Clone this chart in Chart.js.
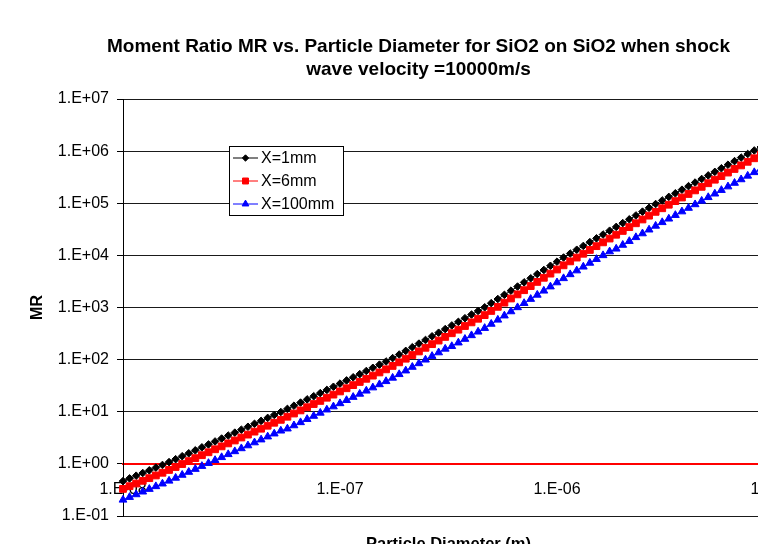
<!DOCTYPE html>
<html>
<head>
<meta charset="utf-8">
<script src="https://cdn.jsdelivr.net/npm/chart.js@4.4.1/dist/chart.umd.min.js"></script>
<style>
  html, body { margin: 0; padding: 0; background: #fff; overflow: hidden; }
  #wrap { width: 837px; height: 560px; }
</style>
</head>
<body>
<div id="wrap"><canvas id="mrChart" width="837" height="560"></canvas></div>
<script>
// particle diameter (m)
const diameters = [
  1.000e-8, 1.072e-8, 1.150e-8, 1.233e-8, 1.322e-8, 1.417e-8, 1.520e-8, 1.630e-8, 1.748e-8, 1.874e-8, 2.009e-8,
  2.154e-8, 2.310e-8, 2.477e-8, 2.656e-8, 2.848e-8, 3.054e-8, 3.275e-8, 3.511e-8, 3.765e-8, 4.037e-8, 4.329e-8,
  4.642e-8, 4.977e-8, 5.337e-8, 5.722e-8, 6.136e-8, 6.579e-8, 7.055e-8, 7.565e-8, 8.111e-8, 8.697e-8, 9.326e-8,
  1.000e-7, 1.072e-7, 1.150e-7, 1.233e-7, 1.322e-7, 1.417e-7, 1.520e-7, 1.630e-7, 1.748e-7, 1.874e-7, 2.009e-7,
  2.154e-7, 2.310e-7, 2.477e-7, 2.656e-7, 2.848e-7, 3.054e-7, 3.275e-7, 3.511e-7, 3.765e-7, 4.037e-7, 4.329e-7,
  4.642e-7, 4.977e-7, 5.337e-7, 5.722e-7, 6.136e-7, 6.579e-7, 7.055e-7, 7.565e-7, 8.111e-7, 8.697e-7, 9.326e-7,
  1.000e-6, 1.072e-6, 1.150e-6, 1.233e-6, 1.322e-6, 1.417e-6, 1.520e-6, 1.630e-6, 1.748e-6, 1.874e-6, 2.009e-6,
  2.154e-6, 2.310e-6, 2.477e-6, 2.656e-6, 2.848e-6, 3.054e-6, 3.275e-6, 3.511e-6, 3.765e-6, 4.037e-6, 4.329e-6,
  4.642e-6, 4.977e-6, 5.337e-6, 5.722e-6, 6.136e-6, 6.579e-6, 7.055e-6, 7.565e-6, 8.111e-6, 8.697e-6, 9.326e-6,
  1.000e-5
];

// moment ratio, X = 1 mm
const mrX1mm = [
  0.467, 0.527, 0.593, 0.668, 0.752, 0.847, 0.953, 1.081, 1.230, 1.403,
  1.596, 1.820, 2.074, 2.360, 2.692, 3.061, 3.491, 3.972, 4.529, 5.150,
  5.874, 6.681, 7.620, 8.688, 9.886, 11.34, 13.06, 15.00, 17.26, 19.86,
  22.79, 26.24, 30.13, 34.67, 39.90, 45.81, 52.67, 60.53, 69.66, 80.17,
  92.02, 106.9, 125.3, 147.2, 173.0, 202.8, 238.2, 279.9, 328.0, 385.5,
  452.9, 530.5, 623.3, 732.6, 859.0, 1009, 1213, 1455, 1750, 2104,
  2523, 3034, 3639, 4375, 5248, 6310, 7568, 9099, 10838, 12822,
  15170, 17950, 21230, 25120, 29720, 35160, 41590, 49200, 58340, 69020,
  81660, 96600, 113200, 132400, 155200, 182000, 212800, 249500, 291700, 342000,
  400000, 468800, 548300, 642700, 751600, 881100, 1030000, 1199000, 1393000, 1622000
];

// moment ratio, X = 6 mm
const mrX6mm = [
  0.331, 0.373, 0.420, 0.473, 0.532, 0.600, 0.675, 0.765, 0.871, 0.993,
  1.130, 1.289, 1.468, 1.671, 1.906, 2.167, 2.472, 2.812, 3.207, 3.646,
  4.159, 4.730, 5.395, 6.151, 6.999, 8.029, 9.246, 10.62, 12.22, 14.06,
  16.14, 18.58, 21.33, 24.55, 28.25, 32.43, 37.29, 42.86, 49.32, 56.76,
  65.15, 75.69, 88.71, 104.2, 122.5, 143.6, 168.6, 198.2, 232.2, 272.9,
  320.7, 375.6, 441.3, 518.7, 608.2, 714.4, 858.8, 1030, 1239, 1490,
  1786, 2148, 2576, 3098, 3716, 4467, 5358, 6442, 7673, 9078,
  10740, 12710, 15030, 17780, 21040, 24890, 29450, 34830, 41300, 48870,
  57820, 68390, 80150, 93740, 109900, 128900, 150700, 176600, 206500, 242100,
  283200, 331900, 388200, 455000, 532100, 623800, 729200, 848900, 986200, 1148000
];

// moment ratio, X = 100 mm
const mrX100mm = [
  0.204, 0.230, 0.259, 0.292, 0.328, 0.370, 0.416, 0.472, 0.537, 0.612,
  0.697, 0.794, 0.905, 1.030, 1.175, 1.336, 1.524, 1.734, 1.977, 2.248,
  2.564, 2.916, 3.326, 3.792, 4.315, 4.728, 5.445, 6.254, 7.196, 8.280,
  9.501, 10.94, 12.56, 14.45, 16.63, 19.10, 21.96, 25.23, 29.04, 33.42,
  38.36, 44.57, 52.24, 61.37, 72.12, 84.55, 99.31, 116.7, 136.7, 160.7,
  180.3, 211.2, 248.1, 291.6, 342.0, 401.7, 482.9, 579.2, 696.7, 837.6,
  1004, 1208, 1449, 1742, 2089, 2512, 3013, 3622, 4315, 5104,
  6039, 7146, 8452, 10000, 11830, 13370, 15810, 18710, 22180, 26240,
  31050, 36730, 43040, 50340, 59010, 69200, 80910, 94860, 110900, 130000,
  152100, 178200, 208500, 244400, 285800, 335000, 391600, 455900, 529600, 616700
];

const seriesNames = ['X=1mm', 'X=6mm', 'X=100mm'];
const xTicks = [1e-8, 1e-7, 1e-6, 1e-5];
const yTicks = [1e-1, 1e0, 1e1, 1e2, 1e3, 1e4, 1e5, 1e6, 1e7];
const titleLines = ['Moment Ratio MR vs. Particle Diameter for SiO2 on SiO2 when shock', 'wave velocity =10000m/s'];
const xTitle = 'Particle Diameter (m)';
const yTitle = 'MR';

const FONT = '"Liberation Sans", Arial, Helvetica, sans-serif';

// Excel style "1.E+03" labels
function sciLabel(v) {
  const e = Math.round(Math.log10(v));
  return '1.E' + (e < 0 ? '-' : '+') + String(Math.abs(e)).padStart(2, '0');
}

function points(ys) {
  return diameters.map((d, i) => ({x: d, y: ys[i]}));
}

function series(label, ys, color, style, radius, order) {
  return {
    label: label,
    data: points(ys),
    borderColor: color,
    backgroundColor: color,
    borderWidth: 1,
    pointStyle: style,
    pointRadius: radius,
    pointBorderWidth: 1,
    pointBackgroundColor: color,
    pointBorderColor: color,
    tension: 0,
    clip: false,
    order: order
  };
}

// title, x axis title and the boxed legend
const chartText = {
  id: 'chartText',
  afterDatasetsDraw(chart) {
    const ctx = chart.ctx;
    const box = {left: 229.5, top: 146.5, width: 114, height: 69};
    ctx.save();
    ctx.fillStyle = '#fff';
    ctx.fillRect(box.left, box.top, box.width, box.height);
    ctx.strokeStyle = '#000';
    ctx.lineWidth = 1;
    ctx.strokeRect(box.left, box.top, box.width, box.height);
    chart.data.datasets.forEach((ds, i) => {
      const y = 158 + i * 23;
      ctx.strokeStyle = ds.borderColor;
      ctx.beginPath();
      ctx.moveTo(233, y);
      ctx.lineTo(258, y);
      ctx.stroke();
      ctx.fillStyle = ds.pointBackgroundColor;
      Chart.helpers.drawPoint(ctx, {pointStyle: ds.pointStyle, radius: ds.pointRadius - 0.6, rotation: 0, borderWidth: 1}, 245.5, y);
      ctx.fillStyle = '#000';
      ctx.font = '16px ' + FONT;
      ctx.textAlign = 'left';
      ctx.textBaseline = 'middle';
      ctx.fillText(ds.label, 261, y + 1);
    });
    ctx.restore();
  },
  afterDraw(chart) {
    const {ctx, chartArea} = chart;
    ctx.save();
    ctx.fillStyle = '#000';
    ctx.textAlign = 'center';
    ctx.textBaseline = 'middle';
    ctx.font = 'bold 19px ' + FONT;
    titleLines.forEach((t, i) => ctx.fillText(t, chart.width / 2, 47 + i * 23));
    ctx.font = 'bold 16.5px ' + FONT;
    ctx.textBaseline = 'alphabetic';
    ctx.fillText(xTitle, (chartArea.left + chartArea.right) / 2, 549);
    ctx.restore();
  }
};

new Chart(document.getElementById('mrChart').getContext('2d'), {
  type: 'line',
  data: {
    datasets: [
      series(seriesNames[0], mrX1mm, '#000000', 'rectRot', 3.8, 3),
      series(seriesNames[1], mrX6mm, '#ff0000', 'rect', 4.8, 2),
      series(seriesNames[2], mrX100mm, '#0000ff', 'triangle', 4.5, 1)
    ]
  },
  options: {
    responsive: false,
    animation: false,
    layout: {padding: {top: 99, left: 0, right: 63, bottom: 44}},
    plugins: {
      legend: {display: false},
      tooltip: {enabled: false},
      title: {display: false}
    },
    scales: {
      x: {
        type: 'logarithmic',
        min: 1e-8,
        max: 1e-5,
        position: {y: 1},
        afterBuildTicks: (scale) => { scale.ticks = xTicks.map(v => ({value: v})); },
        ticks: {
          callback: (v) => sciLabel(v),
          autoSkip: false,
          maxRotation: 0,
          padding: 16,
          color: '#000',
          font: {family: FONT, size: 16}
        },
        grid: {display: false, drawTicks: false},
        border: {display: true, color: '#ff0000', width: 2}
      },
      y: {
        type: 'logarithmic',
        min: 1e-1,
        max: 1e7,
        afterBuildTicks: (scale) => { scale.ticks = yTicks.map(v => ({value: v})); },
        afterFit: (scale) => { scale.width = 123; },
        ticks: {
          callback: (v) => sciLabel(v),
          autoSkip: false,
          padding: 8,
          color: '#000',
          font: {family: FONT, size: 16}
        },
        grid: {
          color: (c) => (c.tick && c.tick.value === 1 ? 'rgba(0,0,0,0)' : '#1a1a1a'),
          lineWidth: 1,
          drawTicks: true,
          tickLength: 6,
          tickColor: '#000'
        },
        border: {display: true, color: '#000', width: 1},
        title: {
          display: true,
          text: yTitle,
          color: '#000',
          font: {family: FONT, size: 16, weight: 'bold'},
          padding: {top: 28, bottom: 0}
        }
      }
    }
  },
  plugins: [chartText]
});
</script>
</body>
</html>
